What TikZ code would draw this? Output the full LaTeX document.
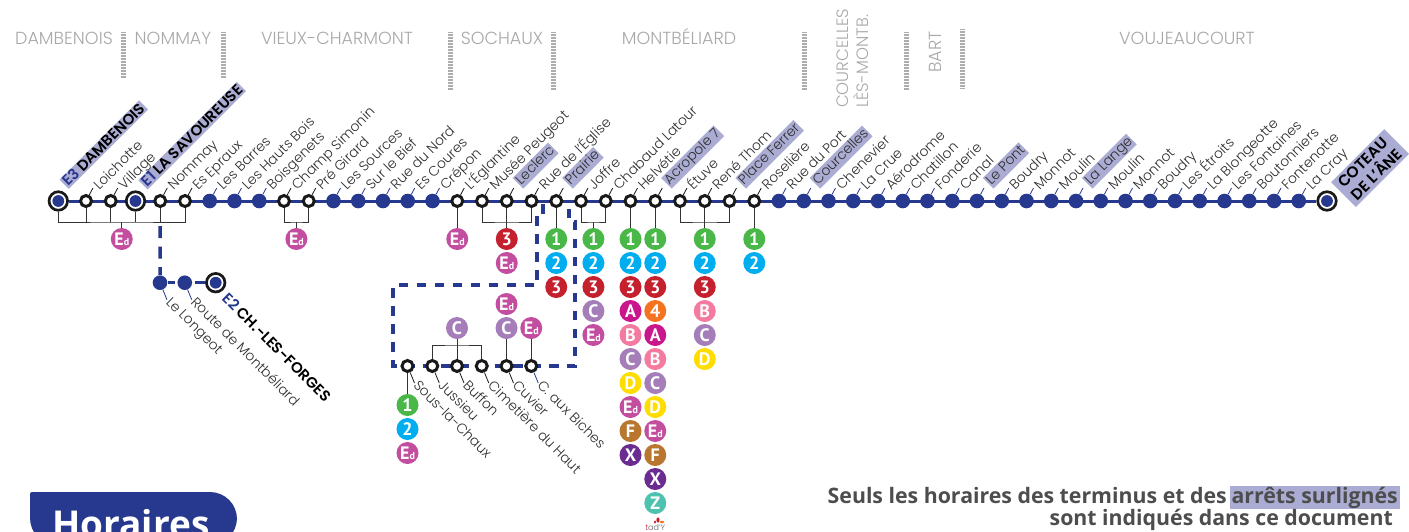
\documentclass[tikz,border=0pt]{standalone}
\usepackage{fontspec}
\setmainfont{Poppins}[UprightFont=* Light,BoldFont=* SemiBold]
\newfontfamily\pastillefont{PT Sans}[Scale=1]
\newfontfamily\notefont{Open Sans}
\usetikzlibrary{backgrounds}
\definecolor{bleu}{HTML}{27388F}
\definecolor{surligne}{HTML}{ABACD3}
\definecolor{commune}{HTML}{A8A8A8}
\definecolor{texte}{HTML}{2E2E2E}
\definecolor{vert}{HTML}{4AB749}
\definecolor{cyan}{HTML}{00AEEF}
\definecolor{rouge}{HTML}{C4202E}
\definecolor{orange}{HTML}{F47321}
\definecolor{magenta}{HTML}{C9168C}
\definecolor{rose}{HTML}{F47A9F}
\definecolor{parme}{HTML}{A57DB8}
\definecolor{jaune}{HTML}{FFDD00}
\definecolor{scol}{HTML}{C34E9F}
\definecolor{brun}{HTML}{B8762F}
\definecolor{violet}{HTML}{6A2C91}
\definecolor{turquoise}{HTML}{4DC2AE}
\newcommand{\Ed}{E{\fontsize{10}{10}\selectfont d}}
\begin{document}
\begin{tikzpicture}[x=1pt,y=-1pt]

    % Styles
    \tikzstyle{arret} = [circle, inner sep=0pt, minimum size=11pt, draw=black!90, line width=3pt, fill=white, node distance=24.75pt]
    \tikzstyle{plein} = [circle, inner sep=0pt, minimum size=14.6pt, fill=bleu, node distance=24.75pt]
    \tikzstyle{terminus} = [circle, inner sep=0pt, minimum size=18.5pt, draw=black!90, line width=2.7pt, fill=white, path picture={\fill [bleu] (path picture bounding box.center) circle (5.9pt);}]
    \tikzstyle{nom} = [xshift=10pt, yshift=12pt, rotate=45, anchor=west, inner sep=1pt, text height=10pt, text depth=3pt, text=texte, font=\fontsize{13.8}{15}\selectfont]
    \tikzstyle{nomhaut} = [xshift=1pt, yshift=5.5pt, nom, fill=surligne]
    \tikzstyle{nombas} = [xshift=7pt, yshift=-17pt, rotate=-45, anchor=west, inner sep=1pt, text height=10pt, text depth=3pt, text=texte, font=\fontsize{13.8}{15}\selectfont]
    \tikzstyle{chef} = [anchor=west, inner sep=1.5pt, text height=10pt, text depth=0pt, text=black, font=\fontsize{15}{15}\selectfont\bfseries]
    \tikzstyle{ville} = [text=commune, inner sep=0pt, anchor=base, font=\fontsize{17.5}{20}\selectfont]
    \tikzstyle{note} = [text=texte!85, inner sep=0pt, anchor=base east, font=\notefont\bfseries\fontsize{21.3}{23}\selectfont]
    \tikzstyle{tick} = [line width=0.8pt, draw=black!90]
    \tikzstyle{tickb} = [line width=0.8pt, draw=bleu]
    \tikzstyle{lien} = [line width=0.9pt, draw=black!80]
    \tikzstyle{ligne} = [line width=3pt, draw=bleu]
    \tikzstyle{tirets} = [line width=3.5pt, draw=bleu, dash pattern=on 9.5pt off 8.5pt]
    \tikzstyle{hachure} = [line width=5.5pt, draw=black!32, dash pattern=on 1pt off 0.5pt]
    \tikzstyle{pastille} = [circle, inner sep=0pt, minimum size=22pt, node distance=24pt, text=white, font=\pastillefont\bfseries\fontsize{18}{18}\selectfont]
    \tikzstyle{p1} = [pastille, fill=vert]
    \tikzstyle{p2} = [pastille, fill=cyan]
    \tikzstyle{p3} = [pastille, fill=rouge]
    \tikzstyle{p4} = [pastille, fill=orange]
    \tikzstyle{pA} = [pastille, fill=magenta]
    \tikzstyle{pB} = [pastille, fill=rose]
    \tikzstyle{pC} = [pastille, fill=parme]
    \tikzstyle{pD} = [pastille, fill=jaune]
    \tikzstyle{pEd} = [pastille, fill=scol]
    \tikzstyle{pF} = [pastille, fill=brun]
    \tikzstyle{pX} = [pastille, fill=violet]
    \tikzstyle{pZ} = [pastille, fill=turquoise]

    \clip (0,0) rectangle (1409,531);

    % Communes
    \node (dambenois-v) [ville] at (64,44) {DAMBENOIS};
    \node (nommay-v) [ville] at (173,44) {NOMMAY};
    \node (charmont-v) [ville] at (337,44) {VIEUX-CHARMONT};
    \node (sochaux-v) [ville] at (502,44) {SOCHAUX};
    \node (montbeliard-v) [ville] at (679,44) {MONTBÉLIARD};
    \node (courcelles-v) [ville, rotate=90, align=left, anchor=west, font=\fontsize{16.5}{20}\selectfont] at (853,108) {COURCELLES\\LÈS-MONTB.};
    \node (bart-v) [ville, rotate=90, anchor=west] at (935,73) {BART};
    \node (voujeaucourt-v) [ville] at (1187,44) {VOUJEAUCOURT};
    \draw [hachure] (123.5,32) -- (123.5,78);
    \draw [hachure] (223.5,32) -- (223.5,78);
    \draw [hachure] (450.5,32) -- (450.5,90);
    \draw [hachure] (553.5,32) -- (553.5,90);
    \draw [hachure] (804.5,32) -- (804.5,90);
    \draw [hachure] (906.5,32) -- (906.5,90);
    \draw [hachure] (962.5,29) -- (962.5,88);

    % Arrets
    \node (dambenois) [terminus] at (58.3,201) {};
    \node (loichotte) [arret] at (86,201) {};
    \node (village) [arret, right of=loichotte] {};
    \node (savoureuse) [terminus, node distance=24.75pt, right of=village] {};
    \node (nommay) [arret, right of=savoureuse] {};
    \node (epraux) [arret, right of=nommay] {};
    \node (barres) [plein, right of=epraux] {};
    \node (hautsbois) [plein, right of=barres] {};
    \node (boisgenets) [plein, right of=hautsbois] {};
    \node (simonin) [arret, right of=boisgenets] {};
    \node (girard) [arret, right of=simonin] {};
    \node (sources) [plein, right of=girard] {};
    \node (bief) [plein, right of=sources] {};
    \node (nord) [plein, right of=bief] {};
    \node (coures) [plein, right of=nord] {};
    \node (crepon) [plein, right of=coures] {};
    \node (eglantine) [arret, right of=crepon] {};
    \node (peugeot) [arret, right of=eglantine] {};
    \node (leclerc) [arret, right of=peugeot] {};
    \node (eglise) [arret, right of=leclerc] {};
    \node (prairie) [arret, right of=eglise] {};
    \node (joffre) [arret, right of=prairie] {};
    \node (latour) [arret, right of=joffre] {};
    \node (helvetie) [arret, right of=latour] {};
    \node (acropole) [arret, right of=helvetie] {};
    \node (etuve) [arret, right of=acropole] {};
    \node (thom) [arret, right of=etuve] {};
    \node (ferrer) [arret, right of=thom] {};
    \node (roseliere) [arret, right of=ferrer] {};
    \node (port) [plein, right of=roseliere] {};
    \node (courcelles) [plein, right of=port] {};
    \node (chenevier) [plein, right of=courcelles] {};
    \node (crue) [plein, right of=chenevier] {};
    \node (aerodrome) [plein, right of=crue] {};
    \node (chatillon) [plein, right of=aerodrome] {};
    \node (fonderie) [plein, right of=chatillon] {};
    \node (canal) [plein, right of=fonderie] {};
    \node (pont) [plein, right of=canal] {};
    \node (boudry1) [plein, right of=pont] {};
    \node (monnot1) [plein, right of=boudry1] {};
    \node (moulin1) [plein, right of=monnot1] {};
    \node (lange) [plein, right of=moulin1] {};
    \node (moulin2) [plein, right of=lange] {};
    \node (monnot2) [plein, right of=moulin2] {};
    \node (boudry2) [plein, right of=monnot2] {};
    \node (etroits) [plein, right of=boudry2] {};
    \node (blongeotte) [plein, right of=etroits] {};
    \node (fontaines) [plein, right of=blongeotte] {};
    \node (boutonniers) [plein, right of=fontaines] {};
    \node (fontenotte) [plein, right of=boutonniers] {};
    \node (cray) [plein, right of=fontenotte] {};
    \node (coteau) [terminus] at (1327,201) {};
    \node (longeot) [plein] at (160,282.7) {};
    \node (route) [plein, right of=longeot] {};
    \node (forges) [terminus] at (215.7,282.7) {};
    \node (chaux) [arret] at (407.5,366) {};
    \node (jussieu) [arret, right of=chaux] {};
    \node (buffon) [arret, right of=jussieu] {};
    \node (cimetiere) [arret, right of=buffon] {};
    \node (cuvier) [arret, right of=cimetiere] {};
    \node (biches) [arret, right of=cuvier] {};

    % Noms
    \node (dambenois-n) [xshift=5.7pt, yshift=16.5pt, chef, rotate=45, fill=surligne] at (dambenois) {{\color{bleu}E3} DAMBENOIS};
    \node (savoureuse-n) [xshift=7.4pt, yshift=16pt, chef, rotate=45, fill=surligne] at (savoureuse) {{\color{bleu}E1} LA SAVOUREUSE};
    \node (coteau-n) [xshift=43pt, yshift=33pt, rotate=45, fill=surligne, inner xsep=5pt, inner ysep=3pt, align=left, text=black, font=\fontsize{15.5}{18}\selectfont\bfseries] at (coteau) {COTEAU\\DE L’ÂNE};
    \node (loichotte-n) [nom] at (loichotte) {Loichotte};
    \node (village-n) [nom] at (village) {Village};
    \node (nommay-n) [nom] at (nommay) {Nommay};
    \node (epraux-n) [nom] at (epraux) {Es Epraux};
    \node (barres-n) [nom] at (barres) {Les Barres};
    \node (hautsbois-n) [nom] at (hautsbois) {Les Hauts Bois};
    \node (boisgenets-n) [nom] at (boisgenets) {Boisgenets};
    \node (simonin-n) [nom] at (simonin) {Champ Simonin};
    \node (girard-n) [nom] at (girard) {Pré Girard};
    \node (sources-n) [nom] at (sources) {Les Sources};
    \node (bief-n) [nom] at (bief) {Sur le Bief};
    \node (nord-n) [nom] at (nord) {Rue du Nord};
    \node (coures-n) [nom] at (coures) {Es Coures};
    \node (crepon-n) [nom] at (crepon) {Crépon};
    \node (eglantine-n) [nom] at (eglantine) {L’Églantine};
    \node (peugeot-n) [nom] at (peugeot) {Musée Peugeot};
    \node (leclerc-n) [nomhaut] at (leclerc) {Leclerc};
    \node (eglise-n) [nom] at (eglise) {Rue de l’Église};
    \node (prairie-n) [nomhaut] at (prairie) {Prairie};
    \node (joffre-n) [nom] at (joffre) {Joffre};
    \node (latour-n) [nom] at (latour) {Chabaud Latour};
    \node (helvetie-n) [nom] at (helvetie) {Helvétie};
    \node (acropole-n) [nomhaut] at (acropole) {Acropole 7};
    \node (etuve-n) [nom] at (etuve) {Étuve};
    \node (thom-n) [nom] at (thom) {René Thom};
    \node (ferrer-n) [nomhaut] at (ferrer) {Place Ferrer};
    \node (roseliere-n) [nom] at (roseliere) {Roselière};
    \node (port-n) [nom] at (port) {Rue du Port};
    \node (courcelles-n) [nomhaut] at (courcelles) {Courcelles};
    \node (chenevier-n) [nom] at (chenevier) {Chenevier};
    \node (crue-n) [nom] at (crue) {La Crue};
    \node (aerodrome-n) [nom] at (aerodrome) {Aérodrome};
    \node (chatillon-n) [nom] at (chatillon) {Chatillon};
    \node (fonderie-n) [nom] at (fonderie) {Fonderie};
    \node (canal-n) [nom] at (canal) {Canal};
    \node (pont-n) [nomhaut] at (pont) {Le Pont};
    \node (boudry1-n) [nom] at (boudry1) {Boudry};
    \node (monnot1-n) [nom] at (monnot1) {Monnot};
    \node (moulin1-n) [nom] at (moulin1) {Moulin};
    \node (lange-n) [nomhaut] at (lange) {La Lange};
    \node (moulin2-n) [nom] at (moulin2) {Moulin};
    \node (monnot2-n) [nom] at (monnot2) {Monnot};
    \node (boudry2-n) [nom] at (boudry2) {Boudry};
    \node (etroits-n) [nom] at (etroits) {Les Étroits};
    \node (blongeotte-n) [nom] at (blongeotte) {La Blongeotte};
    \node (fontaines-n) [nom] at (fontaines) {Les Fontaines};
    \node (boutonniers-n) [nom] at (boutonniers) {Boutonniers};
    \node (fontenotte-n) [nom] at (fontenotte) {Fontenotte};
    \node (cray-n) [nom] at (cray) {La Cray};
    \node (longeot-n) [nombas] at (longeot) {Le Longeot};
    \node (route-n) [nombas] at (route) {Route de Montbéliard};
    \node (forges-n) [xshift=8pt, yshift=-12pt, chef, rotate=-45] at (forges) {{\color{bleu}E2} CH.-LES-FORGES};
    \node (chaux-n) [nombas] at (chaux) {Sous-la-Chaux};
    \node (jussieu-n) [nombas] at (jussieu) {Jussieu};
    \node (buffon-n) [nombas] at (buffon) {Buffon};
    \node (cimetiere-n) [nombas] at (cimetiere) {Cimetière du Haut};
    \node (cuvier-n) [nombas] at (cuvier) {Cuvier};
    \node (biches-n) [nombas] at (biches) {C. aux Biches};

    % Pastilles
    \node (ed-nommay) [pEd, below of=village, xshift=11pt, yshift=-14pt] {\Ed};
    \node (ed-simonin) [pEd, below of=simonin, xshift=12.4pt, yshift=-14pt] {\Ed};
    \node (ed-eglantine) [pEd, below of=eglantine, yshift=-14pt] {\Ed};
    \node (t3-leclerc) [p3, below of=leclerc, yshift=-14pt] {3};
    \node (ed-leclerc) [pEd, below of=t3-leclerc] {\Ed};
    \node (t1-prairie) [p1, below of=prairie, yshift=-14pt] {1};
    \node (t2-prairie) [p2, below of=t1-prairie] {2};
    \node (t3-prairie) [p3, below of=t2-prairie] {3};
    \node (t1-joffre) [p1, below of=joffre, xshift=12.4pt, yshift=-14pt] {1};
    \node (t2-joffre) [p2, below of=t1-joffre] {2};
    \node (t3-joffre) [p3, below of=t2-joffre] {3};
    \node (tc-joffre) [pC, below of=t3-joffre] {C};
    \node (ed-joffre) [pEd, below of=tc-joffre] {\Ed};
    \node (t1-helv) [p1, below of=helvetie, yshift=-14pt] {1};
    \node (t2-helv) [p2, below of=t1-helv] {2};
    \node (t3-helv) [p3, below of=t2-helv] {3};
    \node (ta-helv) [pA, below of=t3-helv] {A};
    \node (tb-helv) [pB, below of=ta-helv] {B};
    \node (tc-helv) [pC, below of=tb-helv] {C};
    \node (td-helv) [pD, below of=tc-helv] {D};
    \node (ed-helv) [pEd, below of=td-helv] {\Ed};
    \node (tf-helv) [pF, below of=ed-helv] {F};
    \node (tx-helv) [pX, below of=tf-helv] {X};
    \node (t1-acro) [p1, below of=acropole, yshift=-14pt] {1};
    \node (t2-acro) [p2, below of=t1-acro] {2};
    \node (t3-acro) [p3, below of=t2-acro] {3};
    \node (t4-acro) [p4, below of=t3-acro] {4};
    \node (ta-acro) [pA, below of=t4-acro] {A};
    \node (tb-acro) [pB, below of=ta-acro] {B};
    \node (tc-acro) [pC, below of=tb-acro] {C};
    \node (td-acro) [pD, below of=tc-acro] {D};
    \node (ed-acro) [pEd, below of=td-acro] {\Ed};
    \node (tf-acro) [pF, below of=ed-acro] {F};
    \node (tx-acro) [pX, below of=tf-acro] {X};
    \node (tz-acro) [pZ, below of=tx-acro] {Z};
    \node (t1-thom) [p1, below of=thom, yshift=-14pt] {1};
    \node (t2-thom) [p2, below of=t1-thom] {2};
    \node (t3-thom) [p3, below of=t2-thom] {3};
    \node (tb-thom) [pB, below of=t3-thom] {B};
    \node (tc-thom) [pC, below of=tb-thom] {C};
    \node (td-thom) [pD, below of=tc-thom] {D};
    \node (t1-rose) [p1, below of=roseliere, yshift=-14pt] {1};
    \node (t2-rose) [p2, below of=t1-rose] {2};
    \node (t1-chaux) [p1, below of=chaux, yshift=-15pt] {1};
    \node (t2-chaux) [p2, below of=t1-chaux] {2};
    \node (ed-chaux) [pEd, below of=t2-chaux] {\Ed};
    \node (tc-buffon) [pC, above of=buffon, yshift=14pt] {C};
    \node (tc-cuvier) [pC, above of=cuvier, yshift=14pt] {C};
    \node (ed-cuvier) [pEd, above of=tc-cuvier] {\Ed};
    \node (ed-biches) [pEd, above of=biches, yshift=14pt] {\Ed};

    % Logo
    \node (tady) [inner sep=0pt, text=black!60, below of=tz-acro, node distance=24.5pt, font=\fontsize{8}{8}\selectfont] {{\color{rouge}t}ad’Y};
    \fill [rouge] (658,520) ellipse (1.6 and 2.6);
    \fill [rouge] (655,522) ellipse (1.2 and 1.6);
    \fill [orange] (662,522) ellipse (2 and 1.3);

    % Note
    \fill [bleu, rounded corners=2pt] (30,545) -- (30,492) [rounded corners=27pt] -- (237,492) -- (237,545) -- cycle;
    \node (horaires) [text=white, inner sep=0pt, anchor=base west, font=\notefont\bfseries\fontsize{37}{38}\selectfont] at (52,537) {Horaires};
    \node (surligne) [note, fill=surligne, inner xsep=2pt, text depth=6pt, text height=17pt] at (1400,503) {arrêts surlignés};
    \node (seuls) [note] at (1227,503) {Seuls les horaires des terminus et des};
    \node (document) [note] at (1393,525) {sont indiqués dans ce document};

    % Traits
    \foreach \a in {loichotte, village, nommay, epraux, simonin, girard, eglantine, peugeot, leclerc, eglise, prairie, joffre, latour, helvetie, acropole, etuve, thom, ferrer, roseliere}
        \draw [tick] (\a) -- ([xshift=7pt,yshift=13pt]\a.center);
    \foreach \a in {barres, hautsbois, boisgenets, sources, bief, nord, coures, crepon, port, courcelles, chenevier, crue, aerodrome, chatillon, fonderie, canal, pont, boudry1, monnot1, moulin1, lange, moulin2, monnot2, boudry2, etroits, blongeotte, fontaines, boutonniers, fontenotte, cray}
        \draw [tickb] (\a) -- ([xshift=7pt,yshift=13pt]\a.center);
    \foreach \a in {chaux, jussieu, buffon, cimetiere, cuvier}
        \draw [tick] (\a) -- (\a-n.west);
    \foreach \a in {longeot, route, biches}
        \draw [tickb] (\a) -- (\a-n.west);

    \begin{pgfonlayer}{background}
    % Lignes
    \draw [ligne] (dambenois) -- (coteau);
    \draw [ligne, shorten >=2pt] (longeot) -- (route);
    \draw [ligne, shorten <=3pt] (route) -- (forges);
    \draw [tirets, dash pattern=on 12pt off 8.5pt] ([yshift=-25pt]nommay.center) -- (longeot);
    \coordinate (depart) at (543,204);
    \coordinate (retour) at (569,204);
    \draw [tirets] (depart) -- (543,218) -- (537,218) -- (537,285) -- (393,285) -- (393,366) -- (575,366) -- (575,222) -- (569,222) -- (retour);

    % Liens
    \coordinate (fourche1) at (121.7,222);
    \coordinate (fourche2) at (457,345);
    \draw [lien] (dambenois) |- (fourche1) -| (epraux);
    \draw [lien] (loichotte) -- (loichotte |- fourche1);
    \draw [lien] (village) -- (village |- fourche1);
    \draw [lien] (savoureuse) -- (savoureuse |- fourche1);
    \draw [lien] (nommay) -- (nommay |- fourche1);
    \draw [lien] (ed-nommay) -- (ed-nommay |- fourche1);
    \draw [lien] (simonin) |- (ed-simonin |- fourche1) -| (girard);
    \draw [lien] (ed-simonin) -- (ed-simonin |- fourche1);
    \draw [lien] (eglantine) -- (ed-eglantine);
    \draw [lien] (peugeot) |- (leclerc |- fourche1) -| (eglise);
    \draw [lien] (leclerc) -- (t3-leclerc);
    \draw [lien] (prairie) -- (t1-prairie);
    \draw [lien] (joffre) |- (t1-joffre |- fourche1) -| (latour);
    \draw [lien] (t1-joffre) -- (t1-joffre |- fourche1);
    \draw [lien] (helvetie) -- (t1-helv);
    \draw [lien] (acropole) -- (t1-acro);
    \draw [lien] (etuve) |- (thom |- fourche1) -| (ferrer);
    \draw [lien] (thom) -- (t1-thom);
    \draw [lien] (roseliere) -- (t1-rose);
    \draw [lien] (chaux) -- (t1-chaux);
    \draw [lien] (jussieu) |- (fourche2) -| (cimetiere);
    \draw [lien] (buffon) -- (tc-buffon);
    \draw [lien] (cuvier) -- (tc-cuvier);
    \draw [lien] (biches) -- (ed-biches);
    \end{pgfonlayer}

\end{tikzpicture}
\end{document}
